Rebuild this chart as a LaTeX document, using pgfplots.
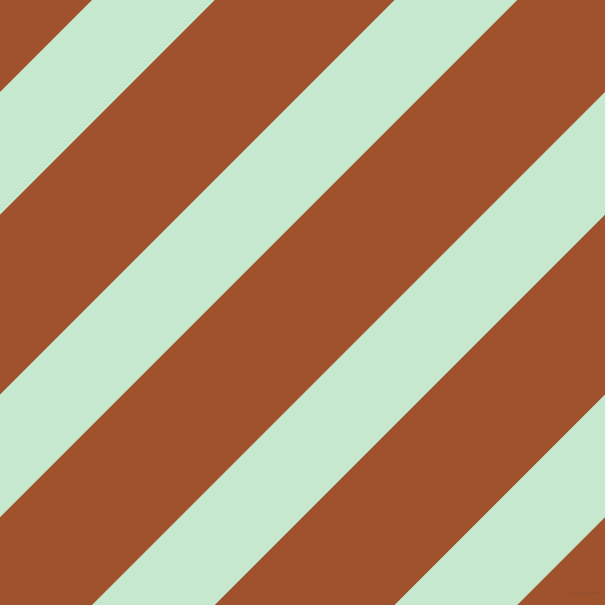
\documentclass[border=0pt]{standalone}
\usepackage{pgfplots}
\pgfplotsset{compat=1.18}
\definecolor{sienna}{RGB}{160,82,45}
\definecolor{mint}{RGB}{197,232,207}
\definecolor{wm}{RGB}{140,78,48}
\begin{document}
\begin{tikzpicture}
\begin{axis}[
  width=605pt, height=605pt, scale only axis,
  xmin=0, xmax=605, ymin=0, ymax=605,
  y dir=reverse,
  hide axis,
  clip=true,
]
% background
\addplot[draw=none, fill=sienna] coordinates {(0,0) (605,0) (605,605) (0,605)} -- cycle;
% stripes (x+y bands)
\addplot[draw=none, fill=mint] coordinates {(92,0) (214.5,0) (0,214.5) (0,92)} -- cycle;
\addplot[draw=none, fill=mint] coordinates {(394.5,0) (517,0) (0,517) (0,394.5)} -- cycle;
\addplot[draw=none, fill=mint] coordinates {(605,92) (605,214.5) (214.5,605) (92,605)} -- cycle;
\addplot[draw=none, fill=mint] coordinates {(605,394.5) (605,517) (517,605) (394.5,605)} -- cycle;
\node[text=wm, font=\fontsize{7}{8}\selectfont\sffamily, inner sep=0pt] at (axis cs:584,594) {pixlis.com};
\end{axis}
\end{tikzpicture}
\end{document}
